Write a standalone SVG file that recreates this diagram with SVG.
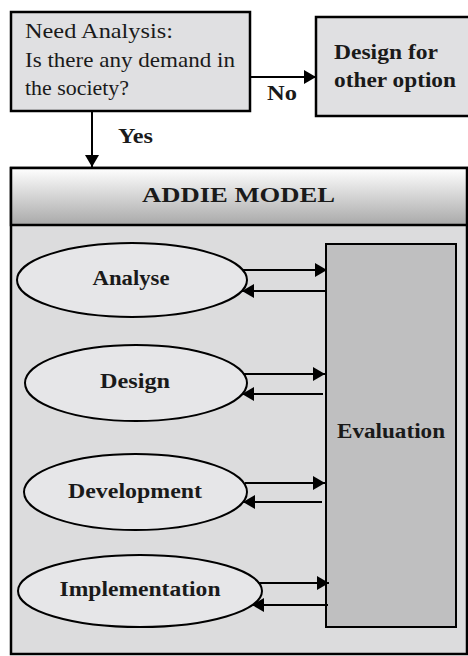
<svg xmlns="http://www.w3.org/2000/svg" width="468" height="656" viewBox="0 0 468 656">
<defs>
<linearGradient id="hdr" x1="0" y1="0" x2="0" y2="1">
<stop offset="0" stop-color="#ffffff"/>
<stop offset="1" stop-color="#a9a9a9"/>
</linearGradient>
<marker id="ah" viewBox="0 0 12 14" refX="12" refY="7" markerWidth="12" markerHeight="14" markerUnits="userSpaceOnUse" orient="auto">
<path d="M0,0 L12,7 L0,14 Z" fill="#000"/>
</marker>
<style>
.box{fill:#e0e0e2;stroke:#000;stroke-width:2.5}
.ell{fill:#e6e6e8;stroke:#000;stroke-width:2}
.t{font-family:'Liberation Serif',serif;font-size:21px;fill:#1a1a1a}
.b{font-family:'Liberation Serif',serif;font-size:20px;font-weight:bold;fill:#1a1a1a}
.c{stroke:#000;stroke-width:2;fill:none;marker-end:url(#ah)}
</style>
</defs>
<rect width="468" height="656" fill="#ffffff"/>
<g id="need">
<rect class="box" x="11" y="12" width="239" height="99"/>
<text class="t" x="25" y="38" textLength="148" lengthAdjust="spacingAndGlyphs">Need Analysis:</text>
<text class="t" x="25" y="67" textLength="210" lengthAdjust="spacingAndGlyphs">Is there any demand in</text>
<text class="t" x="25" y="95" textLength="104" lengthAdjust="spacingAndGlyphs">the society?</text>
</g>
<g id="other">
<rect class="box" x="316" y="17" width="160" height="99"/>
<text class="b" x="334" y="59" style="font-size:21px" textLength="104" lengthAdjust="spacingAndGlyphs">Design for</text>
<text class="b" x="334" y="87" style="font-size:21px" textLength="122" lengthAdjust="spacingAndGlyphs">other option</text>
</g>
<g id="addie">
<rect x="11" y="168" width="456" height="486" fill="#dcdcdd" stroke="#000" stroke-width="2.5"/>
<rect x="11" y="168" width="456" height="57" fill="url(#hdr)" stroke="#000" stroke-width="2.5"/>
<text class="b" x="238.5" y="202" text-anchor="middle" style="font-size:22px" textLength="193" lengthAdjust="spacingAndGlyphs">ADDIE MODEL</text>
</g>
<g id="evaluation">
<rect x="326" y="244" width="130" height="383" fill="#bfbfc0" stroke="#000" stroke-width="2"/>
<text class="b" x="391" y="438" text-anchor="middle" textLength="108" lengthAdjust="spacingAndGlyphs">Evaluation</text>
</g>
<g id="analyse">
<ellipse class="ell" cx="132" cy="280" rx="115" ry="37"/>
<text class="b" x="131" y="285" text-anchor="middle" textLength="77" lengthAdjust="spacingAndGlyphs">Analyse</text>
</g>
<g id="design">
<ellipse class="ell" cx="136" cy="383" rx="111" ry="38"/>
<text class="b" x="135" y="388" text-anchor="middle" textLength="70" lengthAdjust="spacingAndGlyphs">Design</text>
</g>
<g id="development">
<ellipse class="ell" cx="135.5" cy="492" rx="111.5" ry="38"/>
<text class="b" x="135" y="498" text-anchor="middle" textLength="134" lengthAdjust="spacingAndGlyphs">Development</text>
</g>
<g id="implementation">
<ellipse class="ell" cx="140" cy="591" rx="122" ry="36"/>
<text class="b" x="140" y="596" text-anchor="middle" textLength="161" lengthAdjust="spacingAndGlyphs">Implementation</text>
</g>
<g id="connectors">
<line class="c" x1="250" y1="77" x2="316" y2="77"/>
<text class="b" x="267" y="100" textLength="30" lengthAdjust="spacingAndGlyphs">No</text>
<line class="c" x1="92" y1="111" x2="92" y2="167"/>
<text class="b" x="118" y="143" textLength="35" lengthAdjust="spacingAndGlyphs">Yes</text>
<line class="c" x1="243" y1="270" x2="327" y2="270"/>
<line class="c" x1="326" y1="291" x2="242" y2="291"/>
<line class="c" x1="243" y1="374" x2="325" y2="374"/>
<line class="c" x1="323" y1="394" x2="242" y2="394"/>
<line class="c" x1="245" y1="483" x2="325" y2="483"/>
<line class="c" x1="322" y1="502" x2="243" y2="502"/>
<line class="c" x1="258" y1="583" x2="329" y2="583"/>
<line class="c" x1="328" y1="605" x2="252" y2="605"/>
</g>
</svg>
